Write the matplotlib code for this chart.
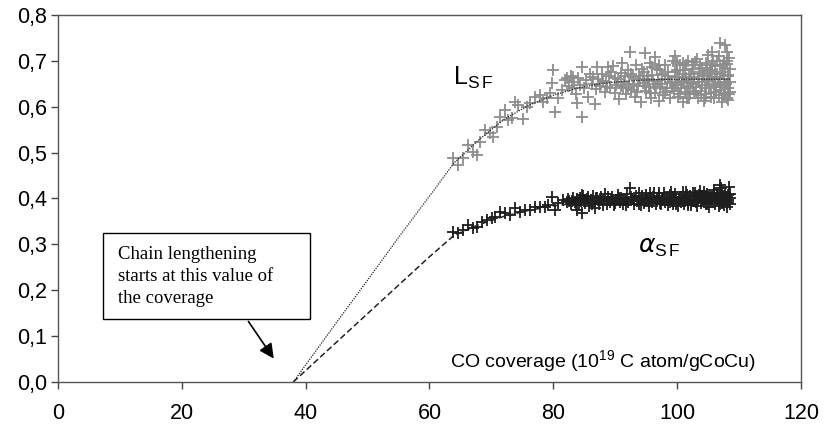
import matplotlib
matplotlib.use("Agg")
import matplotlib.pyplot as plt
from matplotlib.patches import Rectangle
from matplotlib.ticker import FuncFormatter

plt.rcParams["font.family"] = ["Liberation Sans", "DejaVu Sans"]

# L_SF scatter (grey crosses)
l_x = [63.8, 64.6, 65.4, 66.2, 67.0, 67.6, 68.2, 69.0, 69.8, 70.3, 70.9, 71.4, 72.2, 72.7, 73.3,
       73.8, 74.3, 75.1, 75.7, 76.2, 77.0, 77.8, 78.3, 79.0, 79.5, 79.9, 79.8, 80.3, 80.7, 81.4, 81.9,
       82.5, 82.8, 83.1, 83.4, 83.7, 84.0, 84.3, 84.9, 85.3, 85.6, 85.9, 86.2, 86.9, 87.3, 87.6, 87.9,
       88.3, 88.5, 89.0, 89.2, 89.9, 90.2, 90.6, 90.9, 91.3, 91.4, 91.8, 92.1, 92.3, 92.6, 92.9, 93.2,
       93.3, 93.7, 93.9, 94.1, 94.5, 94.6, 94.9, 95.1, 95.5, 95.6, 95.8, 96.0, 96.2, 96.5, 96.7, 96.9,
       97.0, 97.3, 97.5, 97.8, 98.0, 98.1, 98.4, 98.6, 98.9, 99.1, 99.3, 99.5, 99.7, 99.9, 100.1, 100.3,
       100.4, 100.6, 100.8, 101.0, 101.2, 101.3, 101.5, 101.7, 101.8, 102.0, 102.2, 102.3, 102.5, 102.7,
       102.8, 103.0, 103.2, 103.3, 103.5, 103.6, 103.8, 104.0, 104.1, 104.3, 104.4, 104.6, 104.7, 104.9,
       105.0, 105.2, 105.3, 105.5, 105.6, 105.8, 105.9, 106.0, 106.2, 106.3, 106.4, 106.6, 106.7, 106.8,
       107.0, 107.1, 107.2, 107.3, 107.5, 107.6, 107.7, 107.8, 107.9, 108.0, 108.1, 108.2, 108.3, 108.4,
       108.4, 108.5, 108.5, 108.3, 108.1,
       92.4, 94.8, 96.4, 99.6, 84.6, 87.0, 88.8, 89.6, 91.1, 83.8, 86.7, 84.6, 107.0, 107.7, 105.6,
       101.6, 104.5, 107.2, 82.2, 83.2, 86.4, 95.9, 97.2, 100.0, 100.9,
       88.1, 88.7, 89.4, 90.0, 90.5, 91.0, 91.6, 92.0, 92.5, 93.0, 93.5, 94.0, 94.3, 94.8, 95.3, 95.7,
       96.1, 96.6, 97.1, 97.6, 98.0, 98.5, 98.8, 99.2, 99.6, 100.0, 100.2, 100.5, 100.9, 101.1, 101.4,
       101.6, 101.9, 102.1, 102.4, 102.6, 102.9, 103.1, 103.4, 103.7, 103.9, 104.2, 104.5, 104.8, 105.1,
       105.4, 105.7, 106.1, 106.5, 106.9, 107.4, 107.8, 108.2, 108.5, 106.2, 107.0, 105.5, 104.0, 108.0, 107.5]
l_y = [0.488, 0.473, 0.488, 0.516, 0.501, 0.494, 0.523, 0.549, 0.542, 0.534, 0.556, 0.577, 0.593, 0.571, 0.575,
       0.610, 0.603, 0.573, 0.599, 0.608, 0.621, 0.625, 0.610, 0.619, 0.630, 0.680, 0.651, 0.588, 0.619, 0.636, 0.658,
       0.645, 0.668, 0.640, 0.655, 0.628, 0.662, 0.648, 0.641, 0.659, 0.622, 0.671, 0.650, 0.638, 0.660, 0.645, 0.672,
       0.633, 0.655, 0.668, 0.640, 0.662, 0.648, 0.617, 0.673, 0.641, 0.655, 0.628, 0.680, 0.650, 0.637, 0.664, 0.622,
       0.690, 0.645, 0.668, 0.611, 0.652, 0.676, 0.634, 0.660, 0.642, 0.695, 0.620, 0.670, 0.650, 0.631, 0.682, 0.658,
       0.612, 0.643, 0.672, 0.626, 0.660, 0.690, 0.640, 0.668, 0.618, 0.652, 0.700, 0.635, 0.676, 0.647, 0.622, 0.664,
       0.690, 0.640, 0.656, 0.610, 0.680, 0.632, 0.662, 0.700, 0.645, 0.620, 0.672, 0.652, 0.690, 0.630,
       0.665, 0.642, 0.705, 0.618, 0.676, 0.655, 0.635, 0.685, 0.648, 0.612, 0.668, 0.695, 0.628, 0.657,
       0.712, 0.640, 0.680, 0.622, 0.664, 0.700, 0.646, 0.618, 0.688, 0.632, 0.672, 0.655, 0.710, 0.625,
       0.692, 0.642, 0.610, 0.676, 0.660, 0.700, 0.630, 0.684, 0.650, 0.618, 0.694, 0.640, 0.668, 0.706,
       0.628, 0.655, 0.682, 0.615, 0.720,
       0.719, 0.717, 0.708, 0.710, 0.686, 0.686, 0.686, 0.688, 0.695, 0.608, 0.606, 0.577, 0.739, 0.734, 0.719,
       0.619, 0.619, 0.619, 0.662, 0.665, 0.665, 0.686, 0.680, 0.680, 0.695,
       0.657, 0.643, 0.675, 0.630, 0.660, 0.645, 0.668, 0.640, 0.672, 0.650, 0.632, 0.660, 0.683, 0.645, 0.668, 0.630,
       0.656, 0.640, 0.690, 0.650, 0.632, 0.676, 0.655, 0.640, 0.665, 0.695, 0.650, 0.628, 0.672, 0.655, 0.690,
       0.640, 0.665, 0.628, 0.682, 0.650, 0.698, 0.635, 0.660, 0.690, 0.625, 0.672, 0.640, 0.684, 0.660,
       0.630, 0.692, 0.650, 0.700, 0.636, 0.690, 0.648, 0.670, 0.632, 0.665, 0.660, 0.676, 0.655, 0.700, 0.625]

# alpha_SF scatter (black crosses)
a_x = [63.8, 64.6, 65.4, 66.2, 67.0, 67.6, 68.5, 69.3, 70.1, 70.6, 71.4, 72.2, 73.0, 73.8, 74.6,
       75.4, 76.2, 77.0, 77.8, 78.7, 79.1, 79.8, 80.3, 80.7, 81.6, 82.2,
       82.6, 82.9, 83.2, 83.5, 83.9, 84.2, 84.5, 84.8, 85.1, 85.4, 85.8, 86.1, 86.4, 86.8, 87.1, 87.4,
       87.7, 88.0, 88.3, 88.6, 88.9, 89.2, 89.5, 89.8, 90.1, 90.4, 90.7, 91.0, 91.3, 91.6, 91.9, 92.1,
       92.4, 92.7, 93.0, 93.3, 93.6, 93.9, 94.1, 94.4, 94.7, 95.0, 95.2, 95.5, 95.8, 96.0, 96.3, 96.6,
       96.8, 97.1, 97.4, 97.6, 97.9, 98.1, 98.4, 98.6, 98.9, 99.1, 99.4, 99.6, 99.9, 100.1, 100.4, 100.6,
       100.9, 101.1, 101.3, 101.6, 101.8, 102.0, 102.3, 102.5, 102.7, 103.0, 103.2, 103.4, 103.7, 103.9,
       104.1, 104.3, 104.6, 104.8, 105.0, 105.2, 105.4, 105.7, 105.9, 106.1, 106.3, 106.5, 106.7, 106.9,
       107.1, 107.2, 107.4, 107.6, 107.8, 107.9, 108.1, 108.2, 108.3, 108.4, 108.5, 108.5, 107.0,
       84.6, 83.8, 86.7, 84.6,
       82.4, 83.0, 83.6, 84.3, 85.0, 85.6, 86.3, 86.9, 87.5, 88.1, 88.8, 89.4, 90.0, 90.6, 91.2, 91.8,
       92.5, 93.1, 93.8, 94.3, 94.9, 95.4, 96.1, 96.7, 97.2, 97.8, 98.3, 98.8, 99.3, 99.8, 100.3, 100.8,
       101.2, 101.7, 102.1, 102.6, 103.1, 103.6, 104.0, 104.5, 104.9, 105.3, 105.8, 106.2, 106.6, 107.0,
       107.5, 108.0, 108.3, 108.5, 106.0, 104.4, 102.9, 101.4, 99.0, 97.0, 95.6, 108.0, 107.3]
a_y = [0.327, 0.325, 0.331, 0.342, 0.335, 0.338, 0.349, 0.353, 0.357, 0.360, 0.370, 0.368, 0.364, 0.379, 0.370,
       0.375, 0.375, 0.381, 0.381, 0.381, 0.386, 0.403, 0.375, 0.390, 0.397, 0.392,
       0.395, 0.388, 0.402, 0.392, 0.398, 0.385, 0.394, 0.405, 0.390, 0.399, 0.384, 0.396, 0.406, 0.391, 0.400, 0.388,
       0.403, 0.395, 0.409, 0.389, 0.399, 0.393, 0.404, 0.386, 0.397, 0.408, 0.392, 0.401, 0.387, 0.396, 0.410, 0.393,
       0.423, 0.399, 0.388, 0.405, 0.394, 0.412, 0.386, 0.400, 0.391, 0.407, 0.396, 0.383, 0.402, 0.393, 0.411, 0.389,
       0.399, 0.405, 0.387, 0.396, 0.413, 0.392, 0.401, 0.385, 0.407, 0.395, 0.389, 0.410, 0.398, 0.384, 0.403, 0.393,
       0.415, 0.388, 0.400, 0.408, 0.391, 0.397, 0.386, 0.412, 0.395, 0.403, 0.383, 0.399, 0.416, 0.390,
       0.405, 0.394, 0.387, 0.410, 0.398, 0.382, 0.404, 0.392, 0.418, 0.388, 0.400, 0.409, 0.384, 0.396,
       0.422, 0.391, 0.405, 0.386, 0.413, 0.397, 0.381, 0.408, 0.393, 0.425, 0.400, 0.387, 0.429,
       0.368, 0.375, 0.379, 0.407,
       0.399, 0.394, 0.386, 0.401, 0.396, 0.404, 0.389, 0.402, 0.396, 0.386, 0.404, 0.398, 0.391, 0.402, 0.396, 0.386,
       0.403, 0.397, 0.389, 0.406, 0.398, 0.392, 0.404, 0.395, 0.390, 0.402, 0.397, 0.392, 0.404, 0.388, 0.397, 0.402,
       0.394, 0.386, 0.405, 0.399, 0.392, 0.407, 0.397, 0.401, 0.389, 0.396, 0.405, 0.394, 0.399, 0.388,
       0.398, 0.403, 0.396, 0.410, 0.412, 0.414, 0.411, 0.414, 0.414, 0.412, 0.413, 0.390, 0.414]

# fitted curves
fit_x = [38, 45, 50, 55, 60, 64, 68, 72, 76, 80, 84, 88, 92, 96, 100, 104, 108.5]
fit_l = [0.0, 0.13, 0.222, 0.315, 0.405, 0.478, 0.528, 0.572, 0.603, 0.625, 0.641, 0.651, 0.656, 0.659, 0.660, 0.660, 0.660]
fit_a = [0.0, 0.087, 0.149, 0.211, 0.273, 0.320, 0.343, 0.361, 0.374, 0.384, 0.390, 0.394, 0.396, 0.397, 0.398, 0.398, 0.398]

fig = plt.figure(figsize=(8.24, 4.28), dpi=100)
ax = fig.add_axes([0.0704, 0.1075, 0.9016, 0.8575])

ax.plot(l_x, l_y, linestyle="none", marker="+", ms=8, mew=1.3, color="#8e8e8e")
ax.plot(a_x, a_y, linestyle="none", marker="+", ms=8, mew=1.3, color="#1e1e1e")
ax.plot(fit_x, fit_l, color="#222222", linestyle=(0, (1, 1)), lw=0.9)
ax.plot(fit_x, fit_a, color="#222222", linestyle=(0, (4, 2)), lw=1.1)

ax.set_xlim(0, 120)
ax.set_ylim(0, 0.8)
ax.set_xticks(range(0, 121, 20))
ax.set_yticks([i / 10 for i in range(9)])
ax.yaxis.set_major_formatter(FuncFormatter(lambda v, p: f"{v:.1f}".replace(".", ",")))
ax.tick_params(labelsize=15.5, length=5, width=1, color="#444444")
ax.tick_params(axis="x", pad=10)
ax.tick_params(axis="y", pad=3)
for s in ax.spines.values():
    s.set_color("#555555")
    s.set_linewidth(1)

ax.text(63.8, 0.647, r"$\mathregular{L_{S\,F}}$", fontsize=18)
ax.text(93.7, 0.281, r"$\alpha_{\mathregular{S\,F}}$", fontsize=18)
ax.text(63.3, 0.03, r"CO coverage (10$^{\mathregular{19}}$ C atom/gCoCu)", fontsize=14)

ax.add_patch(Rectangle((7.27, 0.137), 33.4, 0.188, fill=False, edgecolor="black", lw=1))
ax.text(9.7, 0.297, "Chain lengthening\nstarts at this value of\nthe coverage",
        family="Liberation Serif", fontsize=13.5, va="top", linespacing=1.38)
ax.annotate("", xy=(35.1, 0.046), xytext=(30.5, 0.137),
            arrowprops=dict(arrowstyle="-|>", color="black", lw=1.2, mutation_scale=22))

fig.savefig("out.png", dpi=100)
